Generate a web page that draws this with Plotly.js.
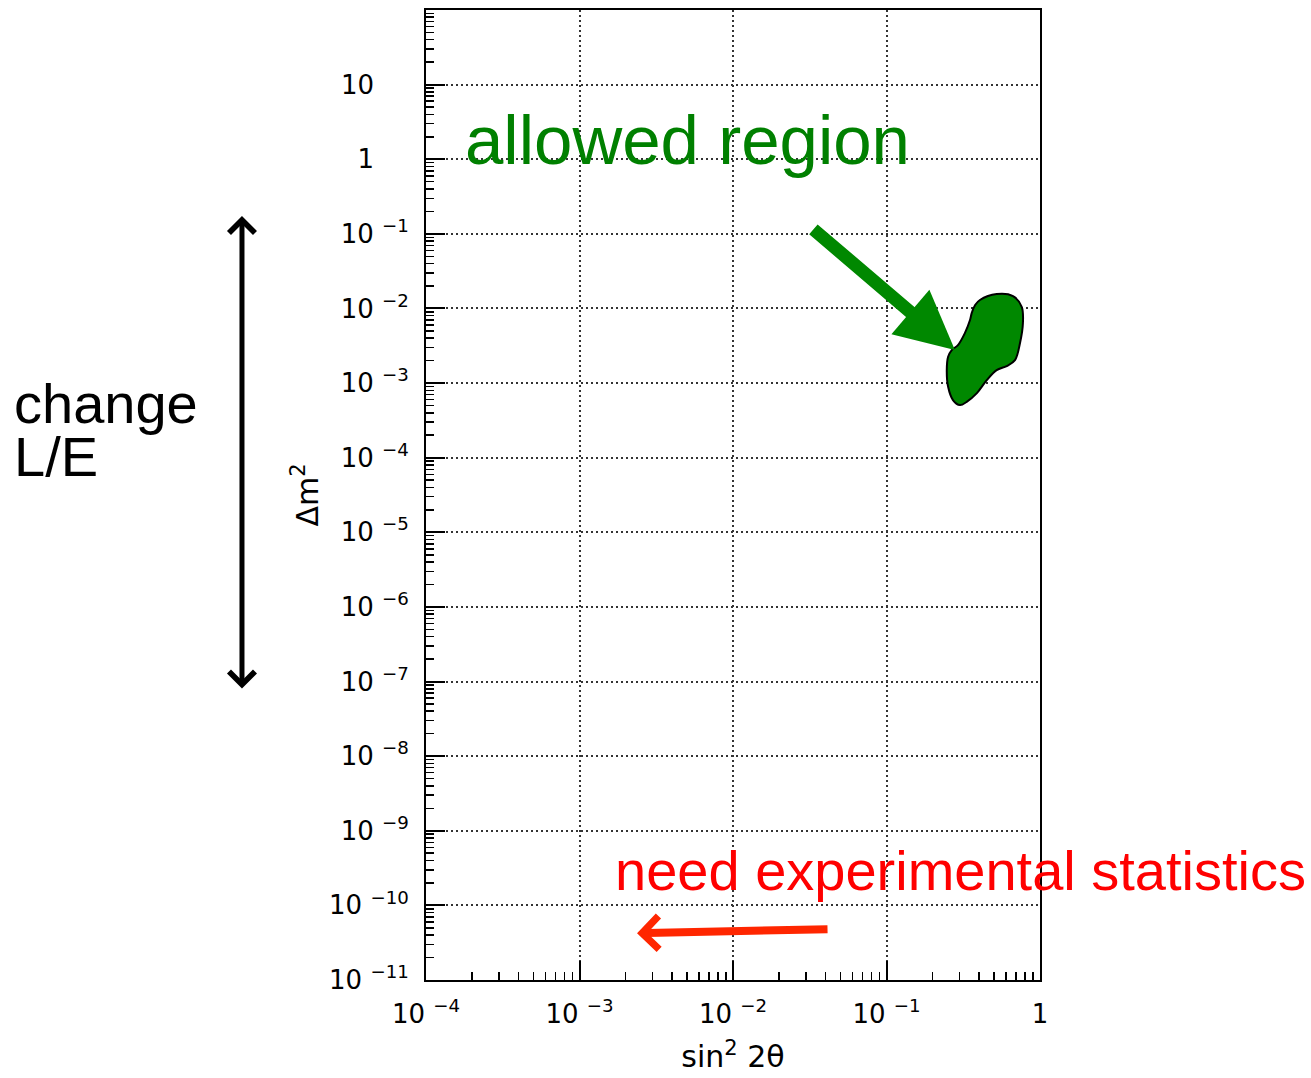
<!DOCTYPE html>
<html>
<head>
<meta charset="utf-8">
<script src="https://cdn.plot.ly/plotly-3.0.1.min.js"></script>
<style>html,body{margin:0;padding:0;background:#fff;}#chart{width:1311px;height:1078px;}</style>
</head>
<body>
<div id="chart"></div>
<script>
// Allowed-region contour (sin^2 2θ, Δm^2)
const regionSin2 = [0.406, 0.522, 0.667, 0.760, 0.774, 0.741, 0.687, 0.607, 0.522, 0.450, 0.388, 0.333, 0.301, 0.271, 0.252, 0.247, 0.252, 0.266, 0.292, 0.324, 0.350, 0.359, 0.378, 0.406];
const regionDm2  = [0.01297, 0.0156, 0.01466, 0.01054, 0.00637, 0.00344, 0.00203, 0.00169, 0.00149, 0.001096, 0.000734, 0.000561, 0.000507, 0.000592, 0.000891, 0.00149, 0.00225, 0.00277, 0.00323, 0.00468, 0.00700, 0.00867, 0.01111, 0.01297];

// Axis ticks
const NB = '\u00a0';
const PAD = '<sup>' + NB.repeat(6) + '</sup>';
const xTickVals = [1e-4, 1e-3, 1e-2, 1e-1, 1];
const xTickText = ['10' + NB + '<sup>−4</sup>', '10' + NB + '<sup>−3</sup>', '10' + NB + '<sup>−2</sup>', '10' + NB + '<sup>−1</sup>', '1'];
const yTickVals = [1e-11, 1e-10, 1e-9, 1e-8, 1e-7, 1e-6, 1e-5, 1e-4, 1e-3, 1e-2, 1e-1, 1, 10];
const yTickText = ['10' + NB + '<sup>−11</sup>', '10' + NB + '<sup>−10</sup>', '10' + NB + '<sup>−9</sup>', '10' + NB + '<sup>−8</sup>', '10' + NB + '<sup>−7</sup>', '10' + NB + '<sup>−6</sup>', '10' + NB + '<sup>−5</sup>', '10' + NB + '<sup>−4</sup>', '10' + NB + '<sup>−3</sup>', '10' + NB + '<sup>−2</sup>', '10' + NB + '<sup>−1</sup>', '1' + PAD, '10' + PAD];

// Arrow anchor points (data units)
const greenArrowTip = [0.279, 0.00277];
const redArrowTip = [0.00237, 4.24e-11];

const FONT = 'Liberation Sans, Arial, Helvetica, sans-serif';
const AXFONT = 'DejaVu Sans, Liberation Sans, Arial, sans-serif';

const trace = {
  x: regionSin2, y: regionDm2,
  type: 'scatter', mode: 'lines',
  fill: 'toself', fillcolor: '#008800',
  line: {color: '#000', width: 2, shape: 'spline', smoothing: 1},
  hoverinfo: 'skip', showlegend: false
};

const axisCommon = {
  type: 'log',
  showline: true, linecolor: '#000', linewidth: 2, mirror: true,
  ticks: 'inside', ticklen: 19, tickwidth: 2, tickcolor: '#000',
  showgrid: true, gridcolor: '#333', gridwidth: 2, griddash: '2px,3px',
  zeroline: false,
  tickmode: 'array',
  tickfont: {family: AXFONT, size: 26, color: '#000'},
  minor: {dtick: 'D1', ticks: 'inside', ticklen: 8, tickwidth: 1.5, tickcolor: '#000', showgrid: false}
};

const layout = {
  width: 1311, height: 1078,
  margin: {l: 426, r: 271, t: 10, b: 98, pad: 0},
  paper_bgcolor: '#fff', plot_bgcolor: '#fff',
  showlegend: false,
  xaxis: Object.assign({}, axisCommon, {
    range: [-4, 0],
    tickvals: xTickVals, ticktext: xTickText,
    ticklabelstandoff: 10,
    title: {text: 'sin<sup>2</sup> 2θ', font: {family: AXFONT, size: 30, color: '#000'}, standoff: 18}
  }),
  yaxis: Object.assign({}, axisCommon, {
    range: [-11, 2],
    tickvals: yTickVals, ticktext: yTickText,
    ticklabelstandoff: 10,
    title: {text: 'Δm<sup>2</sup>', font: {family: AXFONT, size: 30, color: '#000'}, standoff: 2}
  }),
  annotations: [
    {xref: 'paper', yref: 'paper', x: 0.4267, y: 0.865, xanchor: 'center', yanchor: 'middle',
     text: 'allowed region', showarrow: false, font: {family: FONT, size: 69, color: '#008000'}},
    {xref: 'paper', yref: 'paper', x: 0.8713, y: 0.1134, xanchor: 'center', yanchor: 'middle',
     text: 'need experimental statistics', showarrow: false, font: {family: FONT, size: 56, color: '#ff0000'}},
    {xref: 'paper', yref: 'paper', x: -0.6735, y: 0.5948, xanchor: 'left', yanchor: 'middle',
     text: 'change', showarrow: false, font: {family: FONT, size: 56, color: '#000'}},
    {xref: 'paper', yref: 'paper', x: -0.6735, y: 0.5392, xanchor: 'left', yanchor: 'middle',
     text: 'L/E', showarrow: false, font: {family: FONT, size: 56, color: '#000'}},
    // green arrow
    {xref: 'x', yref: 'y', x: Math.log10(greenArrowTip[0]), y: Math.log10(greenArrowTip[1]),
     ax: -143, ay: -122, text: '', showarrow: true, arrowhead: 2, arrowsize: 0.9, arrowwidth: 13,
     arrowcolor: '#008800', standoff: 0},
    // red arrow
    {xref: 'x', yref: 'y', x: Math.log10(redArrowTip[0]), y: Math.log10(redArrowTip[1]),
     ax: 192, ay: -4, text: '', showarrow: true, arrowhead: 4, arrowsize: 0.8, arrowwidth: 8,
     arrowcolor: '#ff2600', standoff: 0},
    // black double arrow
    {xref: 'paper', yref: 'paper', axref: 'paper', ayref: 'paper',
     x: -0.2997, y: 0.7876, ax: -0.2997, ay: 0.299, text: '', showarrow: true,
     arrowside: 'end+start', arrowhead: 4, startarrowhead: 4, arrowsize: 1, startarrowsize: 1,
     arrowwidth: 5, arrowcolor: '#000', standoff: 0, startstandoff: 0}
  ]
};

Plotly.newPlot('chart', [trace], layout, {displayModeBar: false, staticPlot: true});
</script>
</body>
</html>
